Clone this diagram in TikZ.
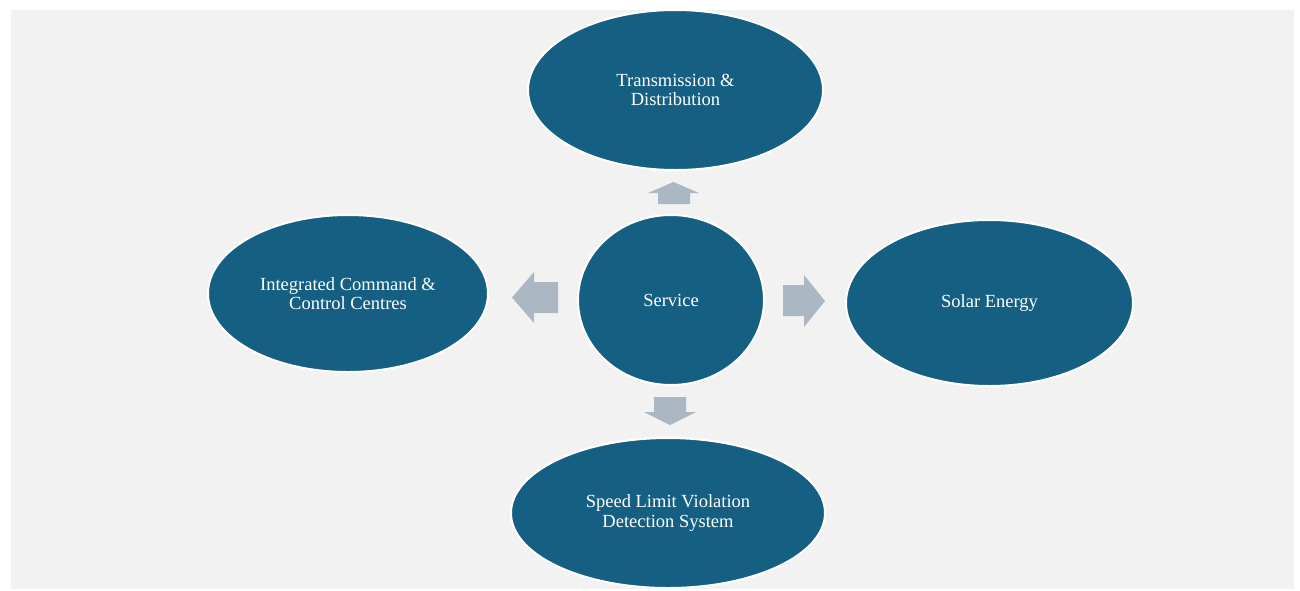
\documentclass[tikz,border=0pt]{standalone}
\usepackage{fontspec}
\setmainfont{Liberation Serif}
\usetikzlibrary{shapes.geometric}
\definecolor{panelbg}{HTML}{F2F2F2}
\definecolor{blobfill}{HTML}{156082}
\definecolor{arrowfill}{HTML}{ABB7C3}
\begin{document}
\begin{tikzpicture}[x=1pt,y=-1pt,
  blob/.style={ellipse, fill=blobfill, draw=white, line width=2pt, text=white,
    align=center, font=\fontsize{18.5}{19.5}\selectfont, inner sep=0pt},
  blockarrow/.style={fill=arrowfill}]
\useasboundingbox (0,0) rectangle (1300,590);
\fill[panelbg] (11,10) rectangle (1294,589);
\node[blob, minimum width=295, minimum height=160] (td) at (675.5,90) {Transmission \&\\Distribution};
\node[blob, minimum width=280, minimum height=157] (icc) at (348,293.5) {Integrated Command \&\\Control Centres};
\node[blob, minimum width=186, minimum height=170] (svc) at (671,300) {Service};
\node[blob, minimum width=287, minimum height=166] (solar) at (989.5,303) {Solar Energy};
\node[blob, minimum width=314, minimum height=150] (slv) at (668,513) {Speed Limit Violation\\Detection System};
% block arrows
\fill[blockarrow] (658,204) -- (658,193) -- (648,193) -- (673.5,182) -- (699,193) -- (690,193) -- (690,204) -- cycle;
\fill[blockarrow] (558,282) -- (534,282) -- (534,272) -- (512,297.5) -- (534,323) -- (534,313) -- (558,313) -- cycle;
\fill[blockarrow] (783,285) -- (804,285) -- (804,275) -- (825,301) -- (804,327) -- (804,316) -- (783,316) -- cycle;
\fill[blockarrow] (654,397) -- (686,397) -- (686,412) -- (696,412) -- (670,425) -- (644,412) -- (654,412) -- cycle;
\end{tikzpicture}
\end{document}
